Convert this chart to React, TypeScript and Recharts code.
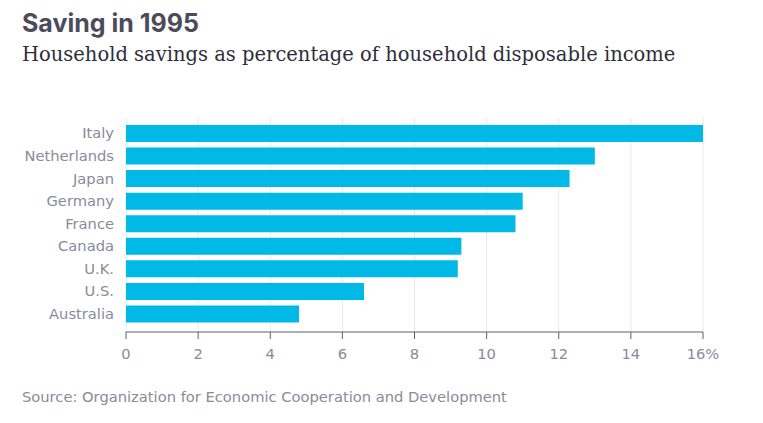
import { BarChart, Bar, XAxis, YAxis, CartesianGrid } from 'recharts';

const countries = ['Italy', 'Netherlands', 'Japan', 'Germany', 'France', 'Canada', 'U.K.', 'U.S.', 'Australia'];
const savings = [16.0, 13.0, 12.3, 11.0, 10.8, 9.3, 9.2, 6.6, 4.8];
const xTicks = [0, 2, 4, 6, 8, 10, 12, 14, 16];

const data = countries.map((country, i) => ({ country, value: savings[i] }));

const tickFont = { fill: '#8a8a9a', fontSize: 14.7, fontFamily: '"DejaVu Sans", sans-serif' };

export default function App() {
  return (
    <div style={{ position: 'relative', width: 763, height: 423, margin: -8, background: '#fff', overflow: 'hidden' }}>
      <div style={{ position: 'absolute', left: 22, top: 8, fontFamily: 'Inter, sans-serif', fontWeight: 700, fontSize: 25, color: '#4b4b5b' }}>
        Saving in 1995
      </div>
      <div style={{ position: 'absolute', left: 22, top: 43, fontFamily: '"DejaVu Serif", serif', fontSize: 19.5, color: '#2e2e3a' }}>
        Household savings as percentage of household disposable income
      </div>
      <div style={{ position: 'absolute', left: 0, top: 0 }}>
        <BarChart
          width={763}
          height={423}
          data={data}
          layout="vertical"
          margin={{ top: 118, right: 60, bottom: 61, left: 0 }}
        >
          <CartesianGrid horizontal={false} stroke="#e8e8e8" />
          <XAxis
            type="number"
            domain={[0, 16]}
            ticks={xTicks}
            interval={0}
            tickFormatter={(v: number) => (v === 16 ? '16%' : String(v))}
            tick={tickFont}
            tickSize={7}
            tickMargin={10}
            axisLine={{ stroke: '#5f5f6f' }}
            tickLine={{ stroke: '#5f5f6f' }}
            height={30}
          />
          <YAxis
            type="category"
            dataKey="country"
            width={126}
            tick={{ ...tickFont, textAnchor: 'end' }}
            tickSize={0}
            tickMargin={12}
            axisLine={false}
            tickLine={false}
            padding={{ top: 4, bottom: 7 }}
          />
          <Bar dataKey="value" fill="#00b9e7" barSize={17} isAnimationActive={false} />
        </BarChart>
      </div>
      <div style={{ position: 'absolute', left: 22, top: 388, fontFamily: '"DejaVu Sans", sans-serif', fontSize: 14.7, color: '#8a8a9a' }}>
        Source: Organization for Economic Cooperation and Development
      </div>
    </div>
  );
}
